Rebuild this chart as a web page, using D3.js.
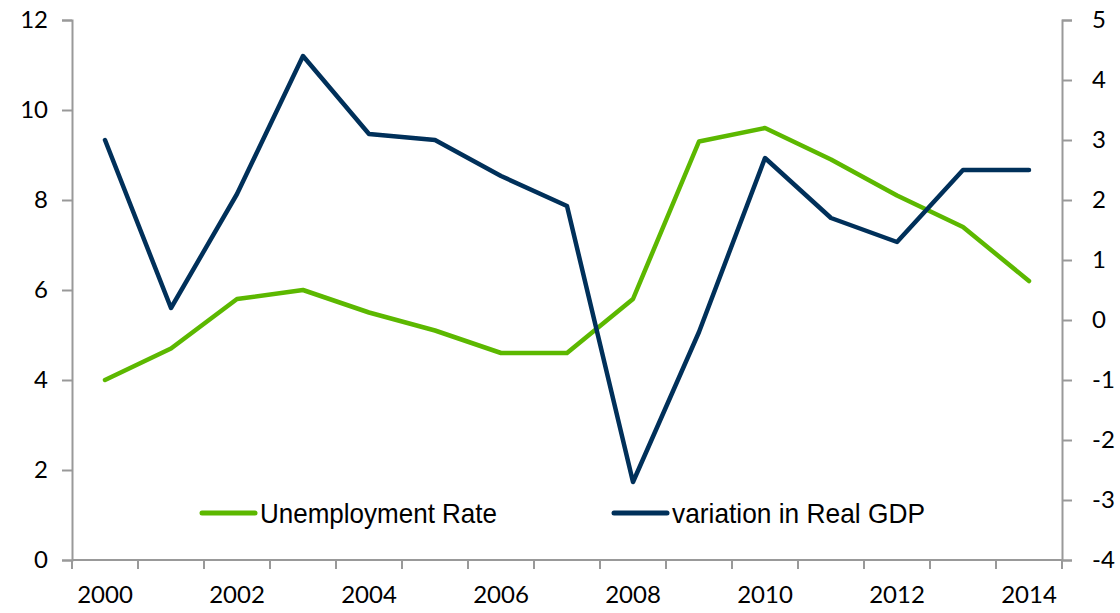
<!DOCTYPE html>
<html>
<head>
<meta charset="utf-8">
<script src="https://cdn.jsdelivr.net/npm/d3@7"></script>
<style>
  body { margin: 0; background: #fff; }
  .tick text { font-family: Lato, "Open Sans", sans-serif; font-size: 24px; fill: #000; }
  .legend text { font-family: "Liberation Sans Narrow", "Arial Narrow", "Liberation Sans", sans-serif; font-size: 28px; fill: #000; }
</style>
</head>
<body>
<div id="chart"></div>
<script>
const width = 1120;
const height = 613;

const years = [2000, 2001, 2002, 2003, 2004, 2005, 2006, 2007, 2008, 2009, 2010, 2011, 2012, 2013, 2014];
const unemployment = [4.0, 4.7, 5.8, 6.0, 5.5, 5.1, 4.6, 4.6, 5.8, 9.3, 9.6, 8.9, 8.1, 7.4, 6.2];
const realGdp = [3.0, 0.2, 2.1, 4.4, 3.1, 3.0, 2.4, 1.9, -2.7, -0.2, 2.7, 1.7, 1.3, 2.5, 2.5];
const xLabels = [2000, 2002, 2004, 2006, 2008, 2010, 2012, 2014];
const leftTicks = [0, 2, 4, 6, 8, 10, 12];
const rightTicks = [-4, -3, -2, -1, 0, 1, 2, 3, 4, 5];

const margin = {top: 20, right: 58, bottom: 53, left: 72};
const axisColor = "#999";

const svg = d3.select("#chart")
    .append("svg")
    .attr("width", width)
    .attr("height", height);

const x = d3.scaleBand()
    .domain(years)
    .range([margin.left, width - margin.right]);

const yLeft = d3.scaleLinear()
    .domain([0, 12])
    .range([height - margin.bottom, margin.top]);

const yRight = d3.scaleLinear()
    .domain([-4, 5])
    .range([height - margin.bottom, margin.top]);

// x axis: ticks on band edges, labels every 2 years at band centres
const xAxis = svg.append("g")
    .attr("transform", `translate(0,${height - margin.bottom})`);

xAxis.append("line")
    .attr("x1", margin.left).attr("x2", width - margin.right)
    .attr("stroke", axisColor).attr("stroke-width", 2);

const edges = years.map(d => x(d)).concat([x(years[years.length - 1]) + x.bandwidth()]);
xAxis.selectAll(".xtick")
    .data(edges)
    .enter().append("line")
    .attr("x1", d => d).attr("x2", d => d)
    .attr("y1", 0).attr("y2", 9)
    .attr("stroke", axisColor).attr("stroke-width", 2);

xAxis.selectAll(".xlabel")
    .data(xLabels)
    .enter().append("g")
    .attr("class", "tick")
    .append("text")
    .attr("x", d => x(d) + x.bandwidth() / 2)
    .attr("y", 43)
    .attr("text-anchor", "middle")
    .text(d => d);

// left axis
const leftAxis = svg.append("g")
    .attr("transform", `translate(${margin.left},0)`)
    .call(d3.axisLeft(yLeft).tickValues(leftTicks).tickSize(10).tickPadding(14));

// right axis
const rightAxis = svg.append("g")
    .attr("transform", `translate(${width - margin.right},0)`)
    .call(d3.axisRight(yRight).tickValues(rightTicks).tickSize(10).tickPadding(20)
        .tickFormat(d => d < 0 ? "-" + Math.abs(d) : d));

[leftAxis, rightAxis].forEach(a => {
    a.select(".domain").attr("stroke", axisColor).attr("stroke-width", 2);
    a.selectAll(".tick line").attr("stroke", axisColor).attr("stroke-width", 2);
});

// lines
const cx = d => x(d) + x.bandwidth() / 2;

const unempLine = d3.line()
    .x((d, i) => cx(years[i]))
    .y(d => yLeft(d));

const gdpLine = d3.line()
    .x((d, i) => cx(years[i]))
    .y(d => yRight(d));

svg.append("path")
    .datum(unemployment)
    .attr("d", unempLine)
    .attr("fill", "none")
    .attr("stroke", "#5cb800")
    .attr("stroke-width", 4.5)
    .attr("stroke-linejoin", "round")
    .attr("stroke-linecap", "round");

svg.append("path")
    .datum(realGdp)
    .attr("d", gdpLine)
    .attr("fill", "none")
    .attr("stroke", "#00305a")
    .attr("stroke-width", 4.5)
    .attr("stroke-linejoin", "round")
    .attr("stroke-linecap", "round");

// legend (narrow face squeezed to match width)
const legendItems = [
    {name: "Unemployment Rate", color: "#5cb800", x: 202, len: 237},
    {name: "variation in Real GDP", color: "#00305a", x: 614, len: 253}
];

const legend = svg.append("g").attr("class", "legend");
legendItems.forEach(d => {
    legend.append("line")
        .attr("x1", d.x).attr("x2", d.x + 53)
        .attr("y1", 513).attr("y2", 513)
        .attr("stroke", d.color)
        .attr("stroke-width", 5)
        .attr("stroke-linecap", "round");
    legend.append("text")
        .attr("x", d.x + 58)
        .attr("y", 523)
        .attr("textLength", d.len)
        .attr("lengthAdjust", "spacingAndGlyphs")
        .text(d.name);
});
</script>
</body>
</html>
